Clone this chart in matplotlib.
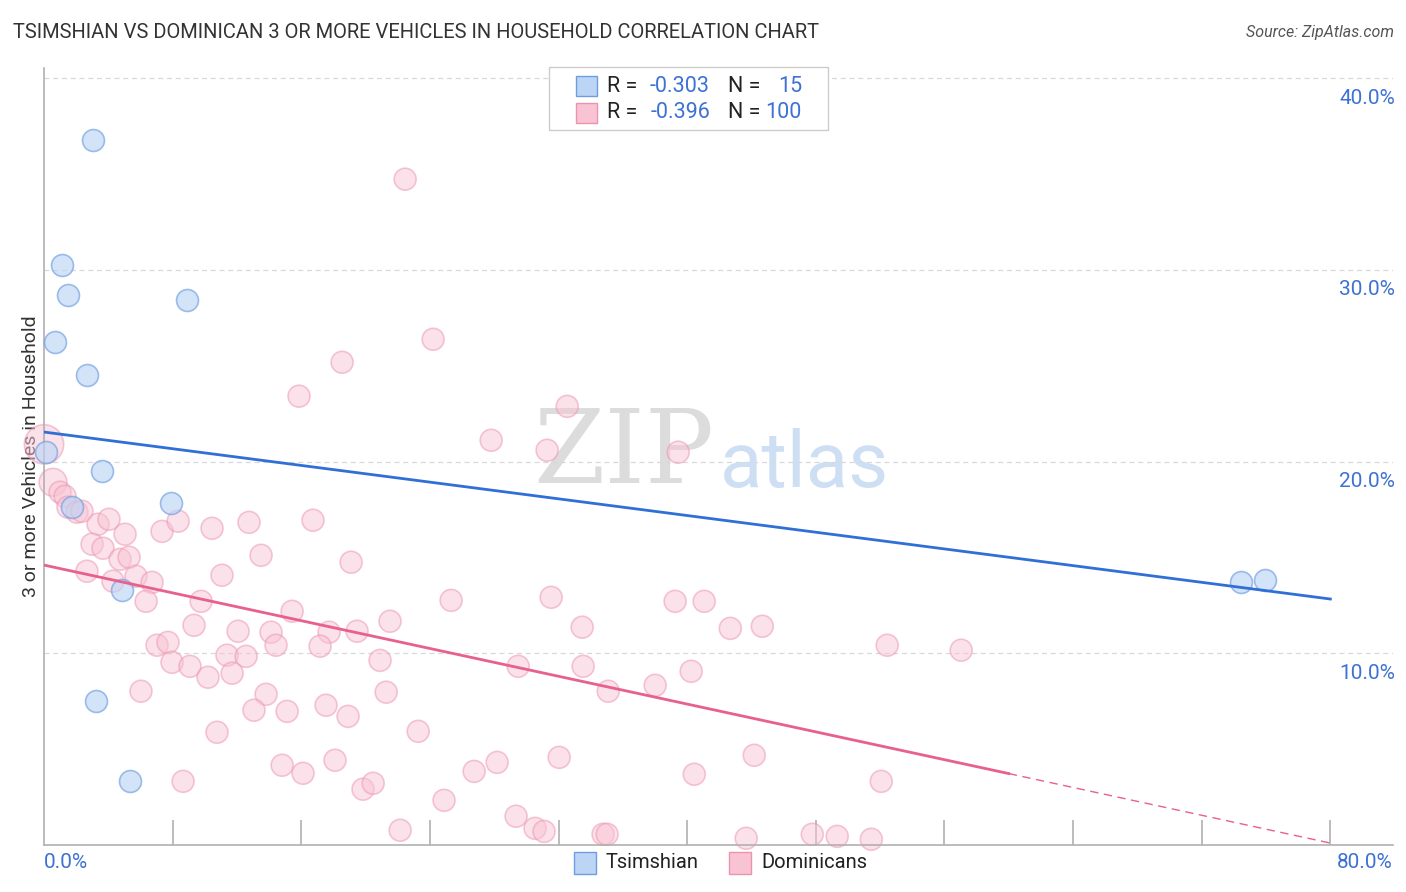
import numpy as np
import matplotlib
matplotlib.use("Agg")
import matplotlib.pyplot as plt
from matplotlib.patches import Rectangle

plt.rcParams['font.family'] = ['Roboto', 'DejaVu Sans']

# Tsimshian points (x = %, y = %)
tsim_x = [3.05, 1.12, 1.49, 8.90, 0.68, 2.67, 0.12, 3.61, 7.90, 1.74, 4.85, 3.23, 5.35, 74.46, 75.96]
tsim_y = [36.76, 30.24, 28.68, 28.41, 26.22, 24.50, 20.49, 19.49, 17.82, 17.62, 13.29, 7.50, 3.32, 13.70, 13.81]

# Dominicans points
dom_x = [0.00, 0.56, 1.00, 1.31, 1.49, 2.05, 2.36, 3.36, 4.04, 5.04,
         2.99, 3.67, 4.73, 5.29, 2.67, 4.29, 5.72, 6.72, 6.35, 7.34,
         8.34, 10.45, 12.75, 13.50, 11.07, 9.77, 15.43, 9.33, 12.07, 14.12,
         14.43, 7.03, 7.71, 7.96, 9.08, 10.20, 11.38, 12.57, 11.70, 6.03,
         13.81, 13.06, 15.12, 10.76, 8.65, 22.46, 24.20, 18.54, 15.86, 32.54,
         27.81, 31.29, 39.44, 16.73, 19.10, 17.73, 17.17, 19.47, 21.52, 25.32,
         31.54, 33.47, 20.90, 29.49, 33.53, 35.09, 17.54, 18.91, 21.28, 23.27,
         14.81, 16.11, 18.10, 19.84, 20.47, 24.88, 26.75, 28.18, 32.04, 29.36,
         30.54, 31.10, 22.15, 34.77, 35.02, 39.25, 41.06, 42.68, 44.67, 52.44,
         57.04, 40.25, 38.01, 44.17, 40.44, 52.07, 43.67, 47.78, 49.33, 51.45]
dom_y = [20.90, 18.92, 18.40, 18.19, 17.62, 17.36, 17.41, 16.73, 16.99, 16.21,
         15.69, 15.48, 14.90, 15.01, 14.28, 13.76, 14.02, 13.70, 12.71, 16.36,
         16.89, 16.52, 16.83, 15.11, 14.07, 12.71, 12.19, 11.46, 11.15, 11.10,
         10.42, 10.42, 10.57, 9.53, 9.32, 8.75, 9.90, 9.84, 8.96, 8.02,
         7.86, 7.03, 6.97, 5.88, 3.32, 34.73, 26.38, 25.18, 23.41, 22.88,
         21.11, 20.59, 20.49, 16.94, 14.75, 11.10, 10.37, 11.15, 11.67, 12.76,
         12.92, 11.36, 9.63, 9.32, 9.32, 8.02, 7.29, 6.71, 7.97, 5.93,
         4.16, 3.74, 4.42, 2.91, 3.22, 2.33, 3.84, 4.31, 4.57, 1.50,
         0.87, 0.71, 0.77, 0.56, 0.56, 12.71, 12.71, 11.30, 11.41, 10.42,
         10.16, 9.06, 8.33, 4.68, 3.69, 3.32, 0.35, 0.56, 0.45, 0.30]

# trend lines (value at x=0 and x=80)
trend_x = [0, 80]
tsim_trend = [21.54, 12.83]
dom_trend = [14.60, 0.10]
dom_solid_end = 60

y_ticks = [10, 20, 30, 40]
x_ticks = [8, 16, 24, 32, 40, 48, 56, 64, 72, 80]

blue_face = '#bcd5f5'
blue_edge = '#6e9ee0'
blue_line = '#2f6fd6'
pink_face = '#f8c4d4'
pink_edge = '#ec93b0'
pink_line = '#e8608c'
tick_blue = '#3d72d4'

fig = plt.figure(figsize=(14.06, 8.92), dpi=100)
ax = fig.add_axes([0.0313, 0.0527, 0.9595, 0.8711])
ax.set_xlim(0, 83.9)
ax.set_ylim(0, 40.53)

for yt in y_ticks:
    ax.axhline(yt, color='#d8d8d8', lw=0.9, ls=(0, (4, 3)), zorder=0)

# watermark
ax.text(0.497, 0.502, 'ZIP', transform=ax.transAxes, fontsize=74, family='DejaVu Serif',
        color='#d9d9d9', ha='right', va='center', alpha=0.9, zorder=0)
ax.text(0.501, 0.489, 'atlas', transform=ax.transAxes, fontsize=56,
        color='#c9dcf3', ha='left', va='center', alpha=0.9, zorder=0)

dom_size = np.full(len(dom_x), 250.0)
dom_size[0] = 800
dom_size[1] = 400
ax.scatter(dom_x, dom_y, s=dom_size, facecolor=pink_face, edgecolor=pink_edge,
           alpha=0.5, linewidths=1.2, zorder=2, clip_on=False)
ax.scatter(tsim_x, tsim_y, s=250, facecolor=blue_face, edgecolor=blue_edge,
           alpha=0.65, linewidths=1.2, zorder=3, clip_on=False)

ax.plot(trend_x, tsim_trend, color=blue_line, lw=2, zorder=4)
slope = (dom_trend[1] - dom_trend[0]) / (trend_x[1] - trend_x[0])
y_end = dom_trend[0] + slope * dom_solid_end
ax.plot([0, dom_solid_end], [dom_trend[0], y_end], color=pink_line, lw=2, zorder=4)
ax.plot([dom_solid_end, trend_x[1]], [y_end, dom_trend[1]], color=pink_line, lw=1,
        ls=(0, (6, 4)), zorder=4)

for s in ['top', 'right']:
    ax.spines[s].set_visible(False)
for s in ['left', 'bottom']:
    ax.spines[s].set_color('#b0b0b0')
    ax.spines[s].set_linewidth(1.2)

ax.set_yticks([])
ax.set_xticks(x_ticks)
ax.set_xticklabels([])
ax.tick_params(axis='x', direction='in', length=18, width=1.2, color='#b0b0b0')

for yt in y_ticks:
    ax.text(1.0015, yt - 1.05, f'{yt:.1f}%', transform=ax.get_yaxis_transform(),
            ha='right', va='center', fontsize=15, color=tick_blue)
fig.text(44 / 1406, 1 - 862 / 892, '0.0%', ha='left', va='center', fontsize=15, color=tick_blue)
fig.text(1393 / 1406, 1 - 862 / 892, '80.0%', ha='right', va='center', fontsize=15, color=tick_blue)

ax.set_ylabel('3 or more Vehicles in Household', fontsize=14, color='#333333', labelpad=3)

fig.text(13 / 1406, 1 - 33 / 892, 'TSIMSHIAN VS DOMINICAN 3 OR MORE VEHICLES IN HOUSEHOLD CORRELATION CHART',
         ha='left', va='center', fontsize=14.5, color='#333333')
fig.text(1394 / 1406, 1 - 33 / 892, 'Source: ZipAtlas.com', ha='right', va='center',
         fontsize=11.5, style='italic', color='#555555')

# top legend box
W, H = 1406, 892
fig.patches.append(Rectangle((549 / W, 1 - 130 / H), 279 / W, 63 / H, transform=fig.transFigure,
                             facecolor='white', edgecolor='#cccccc', lw=1, zorder=5))
rows = [(86, blue_face, blue_edge, '-0.303', '15'), (113, pink_face, pink_edge, '-0.396', '100')]
for yy, fc, ec, r, n in rows:
    fig.patches.append(Rectangle((576 / W, 1 - (yy + 10) / H), 21 / W, 20 / H, transform=fig.transFigure,
                                 facecolor=fc, edgecolor=ec, lw=1, zorder=6))
    fig.text(607 / W, 1 - yy / H, 'R =', ha='left', va='center', fontsize=15.5, color='#222222', zorder=7)
    fig.text(710 / W, 1 - yy / H, r, ha='right', va='center', fontsize=15.5, color=tick_blue, zorder=7)
    fig.text(728 / W, 1 - yy / H, 'N =', ha='left', va='center', fontsize=15.5, color='#222222', zorder=7)
    fig.text(802 / W, 1 - yy / H, n, ha='right', va='center', fontsize=15.5, color=tick_blue, zorder=7)

# bottom legend
for x0, fc, ec, lab in [(574, blue_face, blue_edge, 'Tsimshian'), (729, pink_face, pink_edge, 'Dominicans')]:
    fig.patches.append(Rectangle((x0 / W, 1 - 874 / H), 22 / W, 22 / H, transform=fig.transFigure,
                                 facecolor=fc, edgecolor=ec, lw=1))
    fig.text((x0 + 32) / W, 1 - 863 / H, lab, ha='left', va='center', fontsize=14.5, color='#222222')

fig.savefig('out.png', dpi=100)
